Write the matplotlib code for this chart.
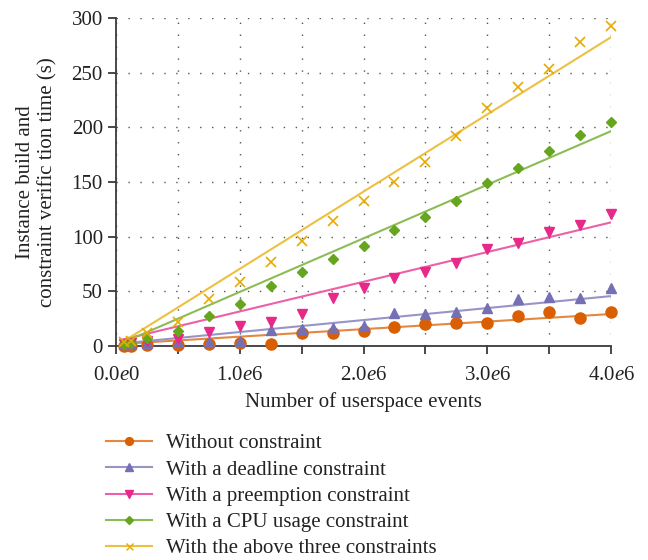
import matplotlib
matplotlib.use('Agg')
import matplotlib.pyplot as plt
from matplotlib.lines import Line2D
from matplotlib.ticker import FixedLocator, MultipleLocator
import numpy as np

plt.rcParams['font.family'] = ['Liberation Serif', 'DejaVu Serif']
plt.rcParams['mathtext.fontset'] = 'custom'
plt.rcParams['mathtext.rm'] = 'Liberation Serif'
plt.rcParams['mathtext.it'] = 'Liberation Serif:italic'

# number of userspace events
events = [62500, 125000, 250000, 500000, 750000, 1000000, 1250000, 1500000,
          1750000, 2000000, 2250000, 2500000, 2750000, 3000000, 3250000,
          3500000, 3750000, 4000000]

no_constraint = [0.3, 0.5, 0.8, 1.0, 1.5, 2.4, 1.6, 11.6, 11.6, 13.8, 17.7,
                 20.1, 20.7, 20.7, 27.7, 30.8, 25.9, 30.8]
deadline = [1.5, 2.0, 3.0, 3.3, 4.0, 4.9, 14.3, 15.3, 16.2, 18.5, 29.9, 29.0,
            30.8, 34.8, 43.3, 45.1, 43.9, 52.7]
preemption = [1.5, 2.5, 5.0, 6.5, 12.8, 18.3, 22.0, 29.6, 43.6, 53.2, 62.5,
              68.0, 76.2, 88.4, 94.5, 104.0, 110.7, 120.5]
cpu_usage = [2.0, 3.0, 7.5, 13.8, 27.4, 38.1, 55.2, 67.4, 79.6, 91.8, 106.1,
             118.3, 132.9, 148.8, 162.5, 178.4, 193.0, 205.2]
all_three = [3.5, 5.0, 11.6, 21.7, 43.0, 58.8, 77.1, 96.3, 114.3, 132.3,
             149.7, 168.6, 192.0, 217.4, 237.2, 253.0, 278.3, 293.0]

# linear fits (seconds per million events, offset)
fit_slope = [6.9, 10.95, 27.15, 49.0, 70.6]
fit_intercept = [1.7, 1.9, 4.5, 0.5, 0.0]

labels = ['Without constraint', 'With a deadline constraint',
          'With a preemption constraint', 'With a CPU usage constraint',
          'With the above three constraints']
series = [no_constraint, deadline, preemption, cpu_usage, all_three]
colors = ['#d95f02', '#7570b3', '#e7298a', '#66a61e', '#e6ab02']
markers = ['o', '^', 'v', 'D', 'x']
msizes = [8, 7.8, 7.8, 5.6, 7.2]

x_ticks = [0, 1e6, 2e6, 3e6, 4e6]
x_ticklabels = ['0.0$e$0', '1.0$e$6', '2.0$e$6', '3.0$e$6', '4.0$e$6']
y_ticks = [0, 50, 100, 150, 200, 250, 300]


def lighten(c, amount=0.25):
    rgb = np.array(matplotlib.colors.to_rgb(c))
    return tuple(rgb * (1 - amount) + amount)


fig = plt.figure(figsize=(6.48, 5.6), dpi=100)
ax = fig.add_axes([0.179, 0.382, 0.764, 0.586])

x = np.array(events, dtype=float)
handles = []
for vals, lab, c, m, ms, k, b in zip(series, labels, colors, markers, msizes,
                                     fit_slope, fit_intercept):
    lc = lighten(c)
    xf = np.array([x[0], x[-1]])
    ax.plot(xf, k * xf / 1e6 + b, color=lc, lw=1.5, zorder=2)
    if m == 'x':
        ax.plot(x, vals, ls='none', marker=m, ms=ms, mew=1.2, color=c,
                zorder=3, clip_on=False)
    else:
        ax.plot(x, vals, ls='none', marker=m, ms=ms, color=c, mec=c,
                zorder=3, clip_on=False)
    handles.append(Line2D([], [], color=lc, lw=1.5, marker=m,
                          ms=ms * 0.7, mfc=c, mec=c, mew=1.0))

ax.set_xlim(0, 4e6)
ax.set_ylim(0, 300)
ax.xaxis.set_major_locator(FixedLocator(x_ticks))
ax.set_xticklabels(x_ticklabels)
ax.xaxis.set_minor_locator(MultipleLocator(5e5))
ax.set_yticks(y_ticks)

for s in ['top', 'right']:
    ax.spines[s].set_visible(False)
for s in ['left', 'bottom']:
    ax.spines[s].set_color('#3a3a3a')
    ax.spines[s].set_linewidth(1.3)

ax.tick_params(which='both', direction='out', length=5.5, width=1.3,
               color='#3a3a3a', labelsize=15, labelcolor='#222222')
ax.tick_params(axis='x', which='both', pad=9)
ax.tick_params(axis='y', pad=4)

ax.grid(True, which='both', axis='x', color='#555555', lw=1.0,
        linestyle=(0, (1, 7.6)))
ax.grid(True, which='major', axis='y', color='#555555', lw=1.0,
        linestyle=(0, (1, 7.6)))
ax.set_axisbelow(True)

ax.set_xlabel('Number of userspace events', fontsize=15, color='#222222',
              labelpad=5)
ax.set_ylabel('Instance build and\nconstraint verific tion time (s)',
              fontsize=15, color='#222222', multialignment='center',
              linespacing=1.2)
ax.yaxis.set_label_coords(-0.118, 0.5)

fig.legend(handles=handles, labels=labels, loc='upper left',
           bbox_to_anchor=(0.147, 0.244), frameon=False, fontsize=15,
           handlelength=2.2, handletextpad=0.7, labelspacing=0.32,
           borderpad=0, labelcolor='#222222')

fig.savefig('out.png', dpi=100)
